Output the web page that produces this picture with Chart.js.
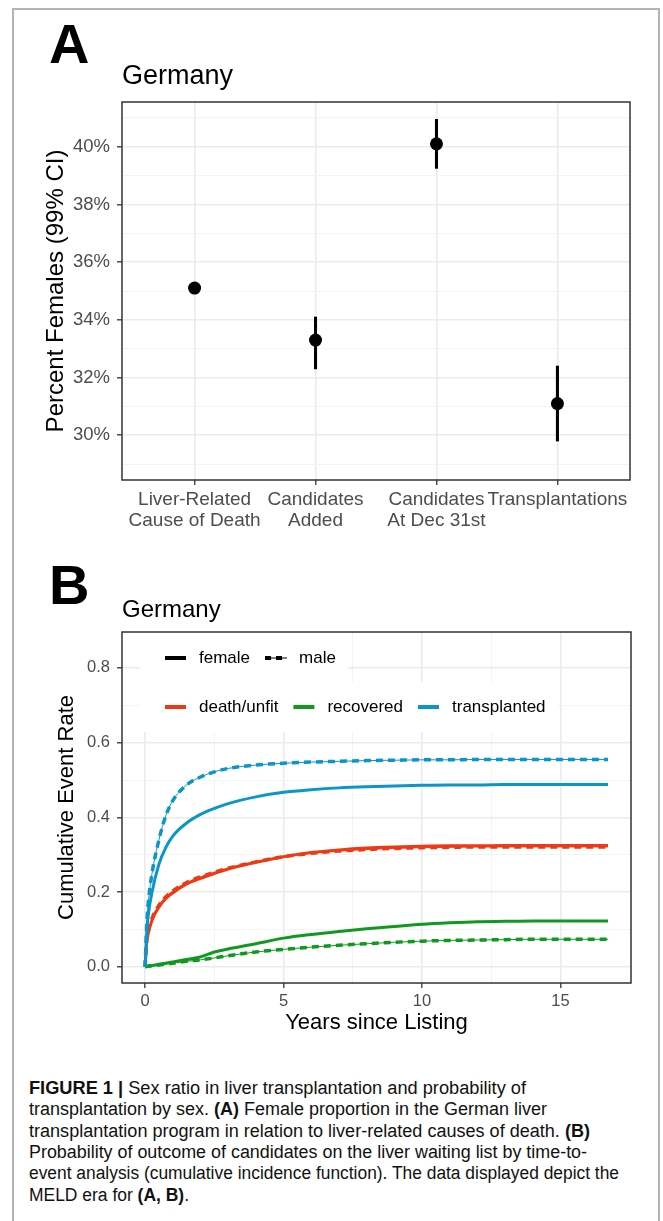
<!DOCTYPE html>
<html>
<head>
<meta charset="utf-8">
<script src="https://cdn.jsdelivr.net/npm/chart.js@4.4.0/dist/chart.umd.min.js"></script>
<style>
  html, body { margin: 0; padding: 0; background: #fff; }
  body { width: 663px; height: 1221px; position: relative; overflow: hidden;
         font-family: "Liberation Sans", Arial, sans-serif; color: #000; }
  #frame { position: absolute; left: 12px; top: 8px; width: 644px; height: 1300px; border: 2px solid #b4b4b4; }
  canvas { position: absolute; left: 0; }
  #chartA { top: 0; }
  #chartB { top: 560px; }
  .letter { position: absolute; left: 49px; font-weight: bold; font-size: 56px; line-height: 56px; }
  .title { position: absolute; left: 122px; white-space: nowrap; }
  .cap { position: absolute; left: 29px; white-space: nowrap; font-size: 18px; line-height: 21px; transform-origin: 0 0; color: #111; }
</style>
</head>
<body>
<div id="frame"></div>
<canvas id="chartA" width="663" height="560"></canvas>
<canvas id="chartB" width="663" height="480"></canvas>
<div class="letter" style="top:16px">A</div>
<div class="letter" style="top:557px">B</div>
<div class="title" style="top:62px;font-size:27px;line-height:27px">Germany</div>
<div class="title" style="top:597px;font-size:24px;line-height:24px">Germany</div>
<div id="caption"></div>

<script>
// ---- panel A: percent females with 99% CI ----
const categories = [["Liver-Related", "Cause of Death"], ["Candidates", "Added"], ["Candidates", "At Dec 31st"], ["Transplantations"]];
const catPos = [1, 2, 3, 4];
const pctFemale = [35.1, 33.3, 40.1, 31.1];
const ciLow = [34.95, 32.3, 39.25, 29.8];
const ciHigh = [35.25, 34.1, 40.95, 32.4];
const yMajorA = [30, 32, 34, 36, 38, 40];
const yMinorA = [29, 31, 33, 35, 37, 39, 41];

// ---- panel B: cumulative incidence by sex ----
const years = [0, 0.05, 0.1, 0.25, 0.5, 0.75, 1, 1.5, 2, 2.5, 3, 4, 5, 6, 7, 8, 9, 10, 11, 12, 13, 14, 16.72];
const deathFemale = [0, 0.06, 0.085, 0.125, 0.16, 0.183, 0.198, 0.222, 0.237, 0.25, 0.262, 0.28, 0.295, 0.306, 0.313, 0.318, 0.321, 0.323, 0.324, 0.324, 0.325, 0.325, 0.325];
const deathMale = [0, 0.065, 0.09, 0.13, 0.165, 0.188, 0.203, 0.226, 0.241, 0.253, 0.264, 0.281, 0.295, 0.304, 0.31, 0.314, 0.317, 0.319, 0.32, 0.321, 0.321, 0.321, 0.321];
const recovFemale = [0, 0.001, 0.002, 0.004, 0.007, 0.01, 0.013, 0.02, 0.027, 0.04, 0.048, 0.062, 0.077, 0.087, 0.095, 0.102, 0.108, 0.114, 0.118, 0.121, 0.122, 0.123, 0.123];
const recovMale = [0, 0.001, 0.002, 0.003, 0.005, 0.008, 0.01, 0.015, 0.019, 0.024, 0.03, 0.04, 0.047, 0.053, 0.058, 0.062, 0.066, 0.069, 0.071, 0.072, 0.073, 0.074, 0.074];
const txFemale = [0, 0.08, 0.13, 0.2, 0.275, 0.32, 0.35, 0.385, 0.408, 0.424, 0.437, 0.455, 0.467, 0.474, 0.479, 0.482, 0.484, 0.486, 0.487, 0.487, 0.488, 0.488, 0.488];
const txMale = [0, 0.1, 0.16, 0.25, 0.34, 0.405, 0.445, 0.487, 0.508, 0.522, 0.531, 0.54, 0.545, 0.548, 0.55, 0.552, 0.553, 0.554, 0.554, 0.555, 0.555, 0.555, 0.555];
const xMajorB = [0, 5, 10, 15];
const xMinorB = [2.5, 7.5, 12.5];
const yMajorB = [0, 0.2, 0.4, 0.6, 0.8];
const yMinorB = [0.1, 0.3, 0.5, 0.7];
const sexLabels = ["female", "male"];
const outcomeLabels = ["death/unfit", "recovered", "transplanted"];
const outcomeColors = ["#EE3A14", "#0F9A1F", "#0A96C8"];

const captionLines = [
  "<b>FIGURE 1 |</b> Sex ratio in liver transplantation and probability of",
  "transplantation by sex. <b>(A)</b> Female proportion in the German liver",
  "transplantation program in relation to liver-related causes of death. <b>(B)</b>",
  "Probability of outcome of candidates on the liver waiting list by time-to-",
  "event analysis (cumulative incidence function). The data displayed depict the",
  "MELD era for <b>(A, B)</b>."
];
const captionEnds = [526, 547, 590, 587, 619, 189];

Chart.defaults.font.family = '"Liberation Sans", Arial, sans-serif';
Chart.defaults.animation = false;

const TICK = "#4d4d4d";
const panelFrame = {
  id: "panelFrame",
  afterDraw(chart) {
    const { ctx, chartArea: a } = chart;
    ctx.save();
    ctx.strokeStyle = "#333";
    ctx.lineWidth = 1.5;
    ctx.strokeRect(a.left, a.top, a.right - a.left, a.bottom - a.top);
    ctx.restore();
  }
};

function gridOpts(major) {
  return {
    offset: false,
    color: c => major.includes(c.tick && c.tick.value) ? "#ebebeb" : "#f3f3f3",
    lineWidth: c => major.includes(c.tick && c.tick.value) ? 1.6 : 0.9,
    tickColor: c => major.includes(c.tick && c.tick.value) ? "#333" : "rgba(0,0,0,0)",
    tickWidth: 1.3,
    tickLength: 5
  };
}

// panel A
new Chart(document.getElementById("chartA"), {
  type: "scatter",
  data: {
    datasets: [
      {
        type: "scatter",
        data: catPos.map((x, i) => ({ x, y: pctFemale[i] })),
        pointRadius: 6.5,
        pointBackgroundColor: "#000",
        pointBorderWidth: 0
      },
      {
        type: "bar",
        data: catPos.map((x, i) => ({ x, y: [ciLow[i], ciHigh[i]] })),
        backgroundColor: "#000",
        barThickness: 2.4,
        grouped: false
      }
    ]
  },
  options: {
    responsive: false,
    events: [],
    layout: { padding: { left: 38, top: 102, right: 33, bottom: 0 } },
    plugins: { legend: { display: false }, tooltip: { enabled: false } },
    scales: {
      x: {
        type: "linear",
        offset: false,
        min: 0.4, max: 4.6,
        afterBuildTicks: s => { s.ticks = catPos.map(v => ({ value: v })); },
        afterFit: s => { s.height = 80; },
        grid: gridOpts(catPos),
        border: { display: false },
        ticks: {
          autoSkip: false, maxRotation: 0, minRotation: 0,
          color: TICK, padding: 4,
          font: { size: 19, lineHeight: 1.1 },
          callback: v => categories[catPos.indexOf(v)]
        }
      },
      y: {
        type: "linear",
        min: 28.45, max: 41.55,
        afterBuildTicks: s => { s.ticks = yMajorA.concat(yMinorA).sort((a, b) => a - b).map(v => ({ value: v })); },
        afterFit: s => { s.width = 84; },
        grid: gridOpts(yMajorA),
        border: { display: false },
        ticks: {
          color: TICK, padding: 7,
          font: { size: 18.5 },
          callback: v => yMajorA.includes(v) ? v + "%" : ""
        },
        title: {
          display: true, text: "Percent Females (99% CI)", color: "#000",
          font: { size: 24 }, padding: { top: 4, bottom: 0 }
        }
      }
    }
  },
  plugins: [panelFrame]
});

// panel B legend drawn inside the panel
const insideLegend = {
  id: "insideLegend",
  beforeDatasetsDraw(chart) {
    const { ctx, chartArea: a } = chart;
    ctx.save();
    ctx.font = '17px "Liberation Sans", Arial, sans-serif';
    ctx.textBaseline = "middle";
    const rows = [
      { y: a.top + 26, labels: sexLabels, keys: ["solid", "dash"], colors: ["#000", "#000"] },
      { y: a.top + 75, labels: outcomeLabels, keys: ["solid", "solid", "solid"], colors: outcomeColors }
    ];
    rows.forEach(row => {
      const x0 = a.left + 43;
      const widths = row.labels.map(l => ctx.measureText(l).width);
      let end = x0;
      widths.forEach((w, i) => { end += 21 + 13 + w + (i < widths.length - 1 ? 15 : 0); });
      ctx.fillStyle = "#fff";
      ctx.fillRect(x0 - 25, row.y - 25, end - x0 + 37, 50);
      let x = x0;
      row.labels.forEach((lab, i) => {
        ctx.strokeStyle = row.colors[i];
        if (row.keys[i] === "dash") {
          ctx.lineWidth = 1;
          ctx.beginPath(); ctx.moveTo(x, row.y); ctx.lineTo(x + 22, row.y); ctx.stroke();
          ctx.lineWidth = 4;
          ctx.setLineDash([6, 5]);
          ctx.beginPath(); ctx.moveTo(x, row.y); ctx.lineTo(x + 22, row.y); ctx.stroke();
          ctx.setLineDash([]);
        } else {
          ctx.lineWidth = 4;
          ctx.beginPath(); ctx.moveTo(x, row.y); ctx.lineTo(x + 21, row.y); ctx.stroke();
        }
        ctx.fillStyle = "#000";
        ctx.fillText(lab, x + 34, row.y);
        x += 21 + 13 + widths[i] + 15;
      });
    });
    ctx.restore();
  }
};

function curve(vals) { return years.map((x, i) => ({ x, y: vals[i] })); }
function femaleSet(vals, color) {
  return { data: curve(vals), borderColor: color, borderWidth: 3, pointRadius: 0, cubicInterpolationMode: "monotone" };
}
function maleSets(vals, color) {
  return [
    { data: curve(vals), borderColor: color, borderWidth: 1, pointRadius: 0, cubicInterpolationMode: "monotone" },
    { data: curve(vals), borderColor: color, borderWidth: 3.5, borderDash: [7, 5], pointRadius: 0, cubicInterpolationMode: "monotone" }
  ];
}

new Chart(document.getElementById("chartB"), {
  type: "line",
  data: {
    datasets: [
      femaleSet(txFemale, outcomeColors[2]),
      ...maleSets(txMale, outcomeColors[2]),
      femaleSet(deathFemale, outcomeColors[0]),
      ...maleSets(deathMale, outcomeColors[0]),
      femaleSet(recovFemale, outcomeColors[1]),
      ...maleSets(recovMale, outcomeColors[1])
    ]
  },
  options: {
    responsive: false,
    events: [],
    layout: { padding: { left: 50, top: 72, right: 32, bottom: 0 } },
    plugins: { legend: { display: false }, tooltip: { enabled: false } },
    scales: {
      x: {
        type: "linear",
        min: -0.835, max: 17.55,
        afterBuildTicks: s => { s.ticks = xMajorB.concat(xMinorB).sort((a, b) => a - b).map(v => ({ value: v })); },
        afterFit: s => { s.height = 57; },
        grid: gridOpts(xMajorB),
        border: { display: false },
        ticks: {
          autoSkip: false, maxRotation: 0, color: TICK, padding: 4,
          font: { size: 16.5 },
          callback: v => xMajorB.includes(v) ? String(v) : ""
        },
        title: {
          display: true, text: "Years since Listing", color: "#000",
          font: { size: 22 }, padding: { top: 0, bottom: 4 }
        }
      },
      y: {
        type: "linear",
        min: -0.043, max: 0.896,
        afterBuildTicks: s => { s.ticks = yMajorB.concat(yMinorB).sort((a, b) => a - b).map(v => ({ value: v })); },
        afterFit: s => { s.width = 72; },
        grid: gridOpts(yMajorB),
        border: { display: false },
        ticks: {
          color: TICK, padding: 7,
          font: { size: 16.5 },
          callback: v => yMajorB.includes(v) ? v.toFixed(1) : ""
        },
        title: {
          display: true, text: "Cumulative Event Rate", color: "#000",
          font: { size: 22 }, padding: { top: 4, bottom: 0 }
        }
      }
    }
  },
  plugins: [insideLegend, panelFrame]
});

// caption, each line fitted to the width it has in the figure
const cap = document.getElementById("caption");
captionLines.forEach((html, i) => {
  const d = document.createElement("div");
  d.className = "cap";
  d.style.top = (1078 + i * 21.3) + "px";
  d.innerHTML = html;
  cap.appendChild(d);
});
document.fonts.ready.then(() => {
  cap.querySelectorAll(".cap").forEach((d, i) => {
    const w = d.getBoundingClientRect().width;
    d.style.transform = "scaleX(" + ((captionEnds[i] - 29) / w).toFixed(4) + ")";
  });
});
</script>
</body>
</html>
